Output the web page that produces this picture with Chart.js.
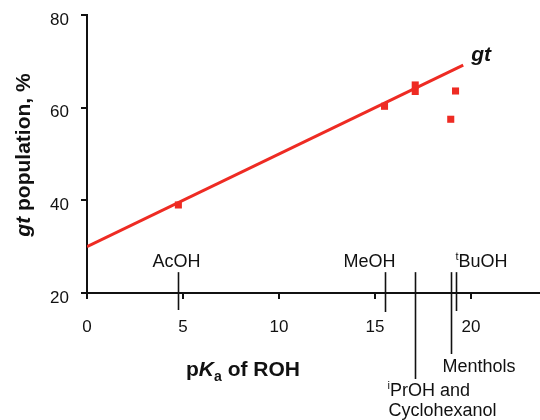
<!DOCTYPE html>
<html>
<head>
<meta charset="utf-8">
<script src="https://cdn.jsdelivr.net/npm/chart.js@4.4.1/dist/chart.umd.min.js"></script>
<style>
  html, body { margin: 0; padding: 0; background: #fff; }
</style>
</head>
<body>
<canvas id="chart" width="540" height="420"></canvas>
<script>
// gt population measured for each ROH
const pointPKa = [4.76, 15.5, 17.1, 17.1, 18.95, 19.2];
const pointGt = [39.0, 60.3, 64.9, 63.5, 57.5, 63.6];

// fitted line (end points)
const fitPKa = [0, 19.6];
const fitGt = [30, 69.2];

// compounds marked on the pKa axis
const markerNames = ['AcOH', 'MeOH', '^iPrOH and|Cyclohexanol', 'Menthols', '^tBuOH'];
const markerPKa = [4.75, 15.55, 17.1, 18.95, 19.2];

const xTicks = [0, 5, 10, 15, 20];
const yTicks = [20, 40, 60, 80];

// how each marker is drawn: line length below the axis, label x offset, label baselines
const markerLayout = [
    { drop: 17, dx: -26, base: [-26] },
    { drop: 19, dx: -42, base: [-26] },
    { drop: 86, dx: -28, base: [103, 123] },
    { drop: 61, dx: -9, base: [79] },
    { drop: 18, dx: -1, base: [-26] },
];

const RED = '#ee2b23';
const FONT = '"Liberation Sans", Arial, sans-serif';

// draw a run list like [{t, f, dy}] starting at x
function drawRuns(ctx, runs, x, y) {
    runs.forEach(r => {
        ctx.font = r.f;
        ctx.fillText(r.t, x, y + (r.dy || 0));
        x += ctx.measureText(r.t).width;
    });
    return x;
}
function runsWidth(ctx, runs) {
    let w = 0;
    runs.forEach(r => { ctx.font = r.f; w += ctx.measureText(r.t).width; });
    return w;
}
function labelRuns(line) {
    const f = '18px ' + FONT;
    if (line[0] === '^') {
        return [{ t: line[1], f: '11px ' + FONT, dy: -7 }, { t: line.slice(2), f: f }];
    }
    return [{ t: line, f: f }];
}

const extras = {
    id: 'extras',
    afterDraw(chart) {
        const ctx = chart.ctx;
        const xs = chart.scales.x, ys = chart.scales.y;
        const axisY = ys.getPixelForValue(20);
        ctx.save();
        ctx.fillStyle = '#111';
        ctx.strokeStyle = '#111';
        ctx.textBaseline = 'alphabetic';

        // marker lines + names
        markerPKa.forEach((p, i) => {
            const lay = markerLayout[i];
            const px = Math.round(xs.getPixelForValue(p)) + 0.5;
            ctx.lineWidth = 1.6;
            ctx.beginPath();
            ctx.moveTo(px, ys.getPixelForValue(24.5));
            ctx.lineTo(px, axisY + lay.drop);
            ctx.stroke();
            markerNames[i].split('|').forEach((line, j) => {
                drawRuns(ctx, labelRuns(line), px + lay.dx + (j > 0 ? 1 : 0), axisY + lay.base[j]);
            });
        });

        // gt label at end of fit line
        const ex = xs.getPixelForValue(fitPKa[1]);
        const ey = ys.getPixelForValue(fitGt[1]);
        ctx.font = 'italic bold 21px ' + FONT;
        ctx.fillText('gt', ex + 8, ey - 4);

        // x axis title: pKa of ROH
        const bf = 'bold 21px ' + FONT;
        const xt = [
            { t: 'p', f: bf },
            { t: 'K', f: 'italic bold 21px ' + FONT },
            { t: 'a', f: 'bold 14px ' + FONT, dy: 5 },
            { t: ' of ROH', f: bf },
        ];
        drawRuns(ctx, xt, 243 - runsWidth(ctx, xt) / 2, 376);

        // y axis title: gt population, %
        const yt = [
            { t: 'gt', f: 'italic bold 21px ' + FONT },
            { t: ' population, %', f: bf },
        ];
        ctx.translate(30, 155);
        ctx.rotate(-Math.PI / 2);
        drawRuns(ctx, yt, -runsWidth(ctx, yt) / 2, 0);
        ctx.restore();
    }
};

const ctx = document.getElementById('chart').getContext('2d');
new Chart(ctx, {
    type: 'scatter',
    data: {
        datasets: [
            {
                data: fitPKa.map((x, i) => ({ x: x, y: fitGt[i] })),
                showLine: true,
                borderColor: RED,
                borderWidth: 3,
                pointRadius: 0,
            },
            {
                data: pointPKa.map((x, i) => ({ x: x, y: pointGt[i] })),
                pointStyle: 'rect',
                pointRadius: 5,
                backgroundColor: RED,
                borderWidth: 0,
            },
        ]
    },
    options: {
        responsive: false,
        animation: false,
        layout: { autoPadding: false, padding: { top: 15, right: 0, left: 0, bottom: 0 } },
        plugins: {
            legend: { display: false },
            tooltip: { enabled: false },
        },
        scales: {
            x: {
                type: 'linear',
                min: 0,
                max: 23.6,
                afterBuildTicks: s => { s.ticks = xTicks.map(v => ({ value: v })); },
                afterFit: s => { s.height = 127; s.paddingLeft = 0; s.paddingRight = 0; },
                grid: { drawOnChartArea: false, tickLength: 6, color: '#111', lineWidth: 2 },
                border: { color: '#111', width: 2 },
                ticks: { font: { family: FONT, size: 17 }, color: '#111', padding: 18, maxRotation: 0, autoSkip: false },
            },
            y: {
                min: 20,
                max: 80,
                afterBuildTicks: s => { s.ticks = yTicks.map(v => ({ value: v })); },
                afterFit: s => { s.width = 87; s.paddingTop = 0; s.paddingBottom = 0; },
                grid: { drawOnChartArea: false, tickLength: 6, color: '#111', lineWidth: 2 },
                border: { color: '#111', width: 2 },
                ticks: { font: { family: FONT, size: 17 }, color: '#111', padding: 12, labelOffset: 5 },
            },
        }
    },
    plugins: [extras]
});
</script>
</body>
</html>
